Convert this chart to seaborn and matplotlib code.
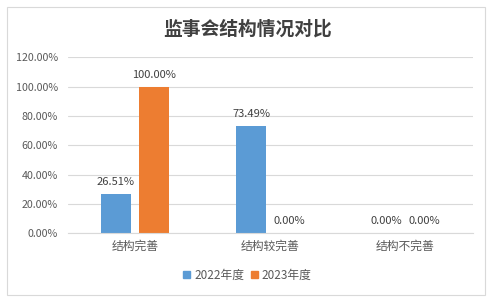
import matplotlib
matplotlib.use("Agg")
import matplotlib.pyplot as plt
import matplotlib.patches as mpatches
import seaborn as sns
import pandas as pd
from matplotlib.ticker import FuncFormatter

categories = ["结构完善", "结构较完善", "结构不完善"]
series_names = ["2022年度", "2023年度"]
values_2022 = [26.51, 73.49, 0.00]
values_2023 = [100.00, 0.00, 0.00]
title = "监事会结构情况对比"
colors = ["#5B9BD5", "#ED7D31"]

df = pd.DataFrame({
    "类别": categories * 2,
    "年度": [series_names[0]] * 3 + [series_names[1]] * 3,
    "值": values_2022 + values_2023,
})

sns.set_theme(style="white")
plt.rcParams["font.family"] = ["Noto Sans CJK SC", "DejaVu Sans"]

W, H = 495, 302
fig = plt.figure(figsize=(W / 100, H / 100), dpi=100)
ax = fig.add_axes([67.5 / W, 1 - 233.3 / H, 405 / W, (233.3 - 57.3) / H])

sns.barplot(data=df, x="类别", y="值", hue="年度", order=categories,
            hue_order=series_names, palette=colors, width=0.563, gap=0.21,
            saturation=1, linewidth=0, ax=ax, legend=False)

ax.set_ylim(0, 120)
ax.set_xlim(-0.5, 2.5)
ax.set_yticks([0, 20, 40, 60, 80, 100, 120])
ax.yaxis.set_major_formatter(FuncFormatter(lambda v, p: f"{v:.2f}%"))
ax.grid(axis="y", color="#D9D9D9", linewidth=0.8)
ax.set_axisbelow(True)
for s in ["left", "right", "top"]:
    ax.spines[s].set_visible(False)
ax.spines["bottom"].set_color("#D9D9D9")
ax.spines["bottom"].set_linewidth(0.8)
ax.tick_params(axis="both", length=0, colors="#595959")
ax.tick_params(axis="y", labelsize=7.7, pad=7)
ax.tick_params(axis="x", labelsize=8.5, pad=5)
ax.set_xlabel("")
ax.set_ylabel("")

for cont in ax.containers:
    ax.bar_label(cont, labels=[f"{b.get_height():.2f}%" for b in cont],
                 padding=5, fontsize=8, color="#404040")

handles = [mpatches.Patch(color=c, label=n) for c, n in zip(colors, series_names)]
fig.legend(handles=handles, loc="center", bbox_to_anchor=(0.5, 1 - 275 / H),
           ncol=2, frameon=False, fontsize=8.5, handlelength=0.6,
           handleheight=0.6, handletextpad=0.3, columnspacing=0.6,
           labelcolor="#595959")

fig.text(0.5, 1 - 29 / H, title, ha="center", va="center", fontsize=13.5,
         fontweight="bold", color="#404040")

border = mpatches.Rectangle((7 / W, 1 - 295 / H), 478 / W, 288 / H,
                            transform=fig.transFigure, fill=False,
                            edgecolor="#D9D9D9", linewidth=0.8)
fig.patches.append(border)

fig.savefig("out.png", dpi=100)
